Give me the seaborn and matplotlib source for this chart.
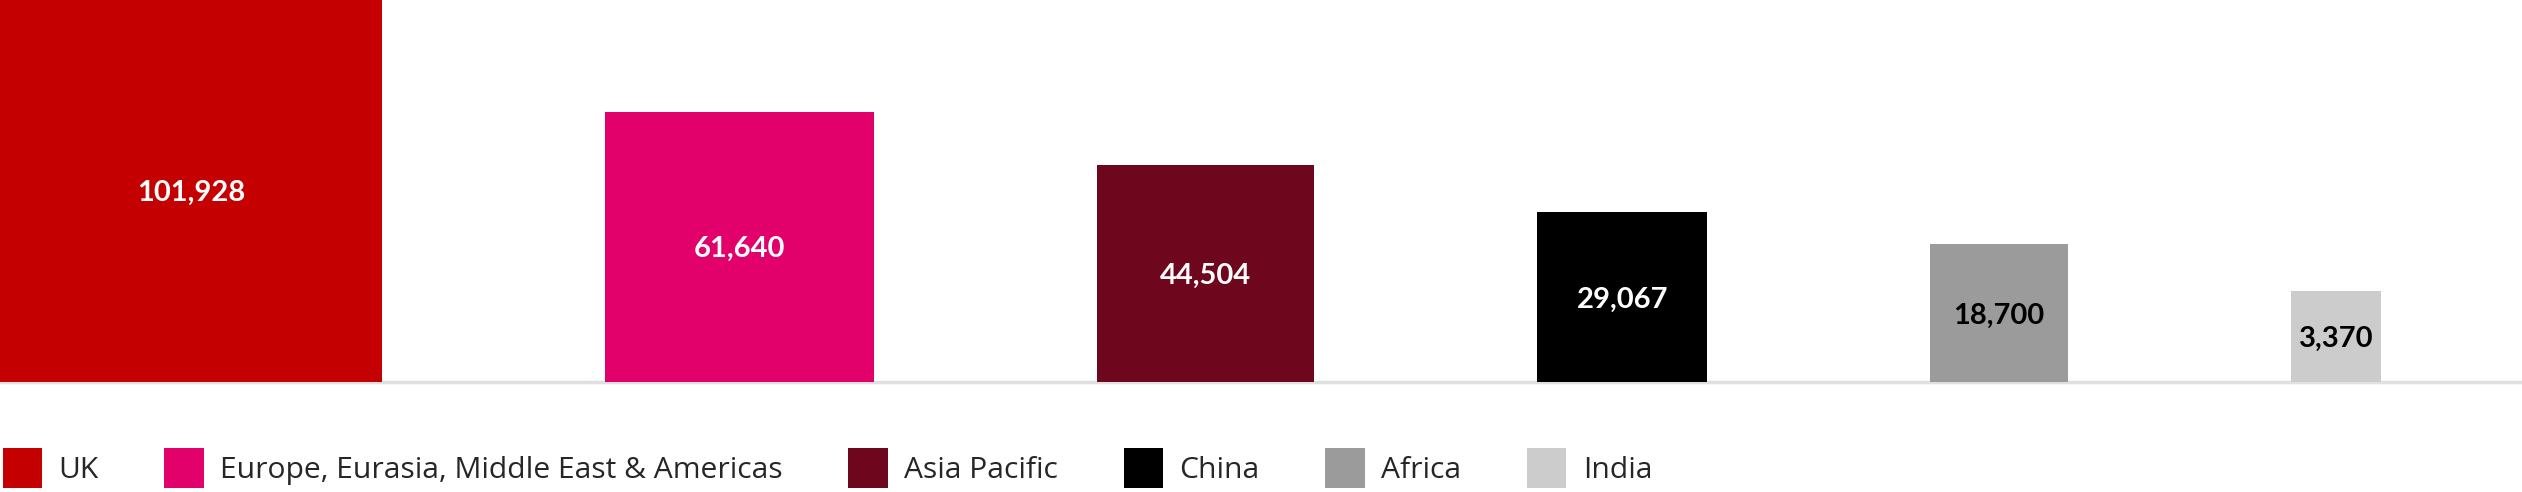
import numpy as np
import pandas as pd
import matplotlib
matplotlib.use("Agg")
import matplotlib.pyplot as plt
import matplotlib.transforms as mtransforms
import seaborn as sns
from matplotlib.patches import Patch

# ---- data ----
regions = ["UK", "Europe, Eurasia, Middle East & Americas", "Asia Pacific",
           "China", "Africa", "India"]
values = [101928, 61640, 44504, 29067, 18700, 3370]
bar_colors = ["#C50000", "#E2006A", "#6E071E", "#000000", "#9B9B9B", "#CCCCCC"]
label_colors = ["white", "white", "white", "white", "black", "black"]

# ---- layout constants (square bars, side grows linearly with value) ----
SIDE_OFFSET = 26065      # value units added to each value to give square side
GAP = 72500              # value units between squares
UNIT = 325.16            # value units per output pixel

sns.set_theme(style="white")
plt.rcParams['font.family'] = ['Lato', 'DejaVu Sans']

W, H = 2522, 492
fig = plt.figure(figsize=(W / 100, H / 100), dpi=100)
base_px = 381.7
ax = fig.add_axes([0, 1 - base_px / H, 1, base_px / H])

sides = np.array(values, dtype=float) + SIDE_OFFSET
lefts = np.concatenate([[0.0], np.cumsum(sides[:-1] + GAP)])
df = pd.DataFrame({"region": regions, "side": sides, "left": lefts})

sns.barplot(data=df, x="region", y="side", hue="region", palette=bar_colors,
            legend=False, ax=ax, saturation=1, width=0.8, zorder=2)

for patch, left, side in zip(ax.patches, lefts, sides):
    patch.set_x(left)
    patch.set_width(side)
    patch.set_linewidth(0)

ytop = base_px * UNIT
x0 = sides[0] - ytop
ax.set_xlim(x0, x0 + W * UNIT)
ax.set_ylim(0, ytop)

ax.axhline(0, color="#E0E0E0", lw=2.5, clip_on=False, zorder=1)

label_tr = mtransforms.offset_copy(ax.transData, fig=fig, x=0, y=-10.5, units="dots")
for left, side, val, tc in zip(lefts, sides, values, label_colors):
    vx0 = max(left, x0)
    cx = (vx0 + left + side) / 2
    cy = min(side, ytop) / 2
    ax.text(cx, cy, f"{val:,}", ha="center", va="baseline", color=tc,
            fontsize=21, fontweight="bold", zorder=3, transform=label_tr)

ax.set_xticks([])
ax.set_yticks([])
ax.set_xlabel("")
ax.set_ylabel("")
for s in ax.spines.values():
    s.set_visible(False)

fs = 21.6
fs_px = fs * 100 / 72
handles = [Patch(facecolor=c, edgecolor="none", label=r)
           for r, c in zip(regions, bar_colors)]
fig.legend(handles=handles, loc="center left", bbox_to_anchor=(2.7 / W, 24 / H),
           ncol=6, frameon=False, handlelength=39.4 / fs_px,
           handleheight=(39.4 / fs_px - 0.245) / 0.65, handletextpad=16.5 / fs_px,
           columnspacing=65.5 / fs_px, borderpad=0, borderaxespad=0,
           prop={"family": ["Open Sans", "DejaVu Sans"], "size": fs})

fig.savefig("out.png", dpi=100)
